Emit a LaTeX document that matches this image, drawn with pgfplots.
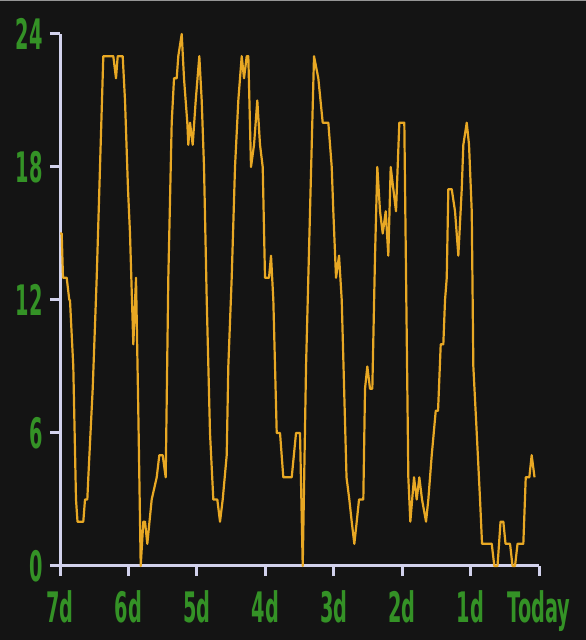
\documentclass[border=0pt]{standalone}
\usepackage{fontspec}
\setmainfont{DejaVu Sans}[FakeStretch=0.46]
\usepackage{pgfplots}
\usepackage{pgfplotstable}
\pgfplotsset{compat=1.18}

\definecolor{bg}{RGB}{20,20,20}
\definecolor{topline}{RGB}{150,150,150}
\definecolor{axiscol}{RGB}{210,210,236}
\definecolor{labgreen}{RGB}{52,146,38}
\definecolor{series}{RGB}{232,168,36}

% hours since the start of the week, value
\pgfplotstableread{
h      v
0.00   15
0.60   15
1.05   13
2.35   13
3.26   12
3.50   12
4.66   9
5.61   3
6.14   2
8.17   2
8.77   3
9.58   3
9.93   4
11.47  8
12.87  13
14.03  18
15.19  23
18.70  23
19.64  22
20.24  23
21.99  23
22.80  21
23.85  17
24.55  15
25.71  10
26.66  13
27.46  7
28.31  0
29.22  2
29.81  2
30.62  1
32.16  3
33.92  4
34.83  5
36.02  5
37.07  4
37.99  13
39.18  20
39.99  22
40.93  22
41.49  23
42.69  24
43.49  22
44.65  20
45.00  19
45.60  20
46.54  19
47.60  21
48.86  23
49.70  21
50.51  18
51.46  12
52.61  6
53.77  3
55.17  3
56.12  2
57.07  3
58.47  5
59.03  9
60.22  13
61.38  18
62.54  21
63.73  23
64.54  22
65.49  23
66.05  23
66.99  18
68.05  19
69.20  21
70.15  19
71.10  18
71.90  13
73.31  13
74.01  14
74.82  12
76.01  6
77.17  6
78.32  4
81.27  4
82.78  6
84.18  6
85.13  0
86.29  9
87.69  16
89.09  23
90.60  22
92.14  20
94.11  20
95.30  18
95.86  16
96.81  13
97.86  14
98.81  12
99.44  9
100.49 4
101.47 3
102.31 2
103.23 1
104.07 2
104.88 3
106.38 3
106.98 8
107.79 9
108.73 8
109.54 8
110.49 14
111.29 18
112.24 16
113.19 15
114.24 16
115.15 14
115.99 18
116.91 17
117.85 16
119.01 20
120.76 20
122.17 4
122.87 2
124.17 4
125.11 3
126.03 4
126.97 3
128.38 2
129.18 3
130.38 5
131.78 7
132.59 7
133.53 10
134.44 10
135.04 12
135.64 13
136.20 17
137.39 17
138.55 16
139.71 14
140.90 17
141.46 19
142.65 20
143.46 19
144.41 16
144.97 9
146.16 6
147.32 3
148.02 1
151.42 1
152.33 0
153.45 0
154.51 2
155.49 2
156.26 1
157.84 1
158.72 0
159.59 0
160.47 1
162.50 1
163.35 4
164.61 4
165.43 5
166.43 4
}\weektable

\begin{document}
\begin{tikzpicture}[x=1pt,y=1pt]
\useasboundingbox (0,0) rectangle (586,640);
\fill[bg] (0,0) rectangle (586,640);
\draw[topline, line width=1.5pt] (0,639.25) -- (586,639.25);
\begin{axis}[
  at={(60pt,74pt)}, anchor=south west,
  scale only axis, width=479pt, height=532pt,
  xmin=0, xmax=168, ymin=0, ymax=24,
  axis lines=left,
  axis line style={-, draw=axiscol, line width=3pt},
  xtick={0,24,...,168},
  xticklabels={7d,6d,5d,4d,3d,2d,1d,Today},
  ytick={0,6,...,24},
  yticklabels={0,6,12,18,24},
  tick align=outside,
  major tick length=10pt,
  tick style={draw=axiscol, line width=3pt},
  ticklabel style={font=\bfseries\fontsize{42}{42}\selectfont, text=labgreen},
  xticklabel style={yshift=-11pt},
  yticklabel style={xshift=-4pt},
  clip=false,
]
\addplot[series, line width=2.2pt, line join=round, mark=none]
  table[x=h, y=v] {\weektable};
\end{axis}
\end{tikzpicture}
\end{document}
